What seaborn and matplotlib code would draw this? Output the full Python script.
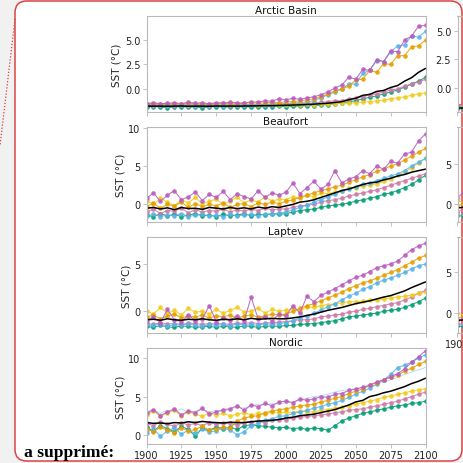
import numpy as np
import pandas as pd
import matplotlib
matplotlib.use("Agg")
import matplotlib.pyplot as plt
import seaborn as sns
from matplotlib.patches import FancyBboxPatch
from matplotlib.lines import Line2D

# ---------------- data (5-year steps) ----------------
years = list(range(1900, 2101, 5))
regions = ["Arctic Basin", "Beaufort", "Laptev", "Nordic"]
models = ["green", "pink", "gold", "sky", "orange", "purple"]

ab_purple = [-1.5,-1.4,-1.5,-1.45,-1.4,-1.5,-1.35,-1.45,-1.4,-1.5,-1.4,-1.45,-1.35,-1.4,-1.45,-1.3,-1.35,-1.2,-1.25,-1.0,
             -1.1,-0.95,-1.05,-0.9,-0.8,-0.6,-0.3,0.1,0.4,1.2,1.0,2.0,1.9,3.0,2.8,3.9,3.8,5.0,5.4,6.4,6.5]
ab_sky = [-1.6,-1.65,-1.6,-1.7,-1.6,-1.65,-1.6,-1.7,-1.65,-1.6,-1.65,-1.7,-1.6,-1.65,-1.6,-1.6,-1.55,-1.6,-1.5,-1.55,
          -1.5,-1.45,-1.4,-1.3,-1.2,-0.9,-0.6,-0.3,0.0,0.5,0.5,1.6,1.9,2.9,2.8,3.8,4.4,4.5,5.4,5.3,5.9]
ab_orange = [-1.5,-1.55,-1.5,-1.5,-1.55,-1.5,-1.45,-1.5,-1.55,-1.5,-1.5,-1.45,-1.5,-1.5,-1.45,-1.4,-1.45,-1.4,-1.35,-1.4,
             -1.3,-1.3,-1.2,-1.1,-1.0,-0.8,-0.5,-0.2,0.0,0.3,0.9,1.0,1.9,1.7,2.6,2.5,3.4,3.4,4.3,4.4,5.0]
ab_gold = [-1.55,-1.5,-1.55,-1.6,-1.5,-1.55,-1.6,-1.55,-1.5,-1.6,-1.55,-1.6,-1.55,-1.6,-1.6,-1.55,-1.6,-1.6,-1.55,-1.6,
           -1.6,-1.55,-1.6,-1.55,-1.6,-1.55,-1.5,-1.5,-1.45,-1.45,-1.4,-1.35,-1.3,-1.2,-1.15,-1.0,-0.9,-0.8,-0.65,-0.5,-0.4]
ab_pink = [-1.65,-1.7,-1.65,-1.6,-1.7,-1.65,-1.7,-1.6,-1.65,-1.7,-1.65,-1.6,-1.7,-1.65,-1.6,-1.65,-1.6,-1.55,-1.6,-1.5,
           -1.55,-1.5,-1.45,-1.5,-1.4,-1.35,-1.3,-1.2,-1.2,-1.0,-0.9,-0.8,-0.6,-0.5,-0.3,-0.1,0.0,0.3,0.5,0.7,1.0]
ab_green = [-1.85,-1.8,-1.85,-1.9,-1.85,-1.8,-1.85,-1.85,-1.9,-1.85,-1.8,-1.85,-1.85,-1.8,-1.85,-1.8,-1.85,-1.8,-1.8,-1.75,
            -1.8,-1.75,-1.75,-1.7,-1.7,-1.65,-1.6,-1.5,-1.45,-1.3,-1.2,-1.0,-0.85,-0.7,-0.5,-0.3,-0.1,0.2,0.5,0.8,1.2]
ab_mean = [-1.75,-1.75,-1.75,-1.76,-1.75,-1.74,-1.76,-1.75,-1.75,-1.76,-1.74,-1.75,-1.74,-1.75,-1.74,-1.73,-1.72,-1.7,-1.7,-1.68,
           -1.66,-1.64,-1.62,-1.58,-1.55,-1.5,-1.45,-1.38,-1.3,-1.1,-0.95,-0.65,-0.55,-0.25,-0.15,0.15,0.35,0.8,1.15,1.7,2.1]

bf_purple = [0.8,1.5,0.4,1.2,1.8,0.6,1.0,1.6,0.5,1.3,0.9,1.7,0.6,1.4,1.0,0.7,1.8,0.9,1.5,1.2,
             1.6,2.8,1.4,2.2,3.0,2.0,2.6,4.4,2.8,3.3,3.6,4.4,4.0,5.0,4.6,5.6,5.4,6.6,6.8,8.3,9.2]
bf_sky = [-1.5,-1.3,-1.6,-1.4,-1.5,-1.2,-1.6,-1.4,-1.3,-1.5,-1.4,-1.6,-1.3,-1.5,-1.4,-1.3,-1.5,-1.2,-1.3,-1.1,
          -1.0,-0.7,-0.4,-0.1,0.3,0.6,1.0,1.3,1.8,2.0,2.3,2.6,2.8,3.1,3.4,3.7,4.0,4.4,5.0,5.5,6.0]
bf_orange = [-0.3,0.2,-0.5,0.0,-0.2,0.3,-0.4,0.1,-0.3,0.0,-0.2,0.2,-0.4,0.0,0.1,-0.3,0.2,0.0,0.3,0.1,
             0.4,0.6,0.9,1.2,1.5,1.8,2.0,2.3,2.5,2.9,3.2,3.6,3.9,4.3,4.6,5.0,5.3,5.8,6.3,6.8,7.3]
bf_gold = [0.5,0.0,0.8,0.3,-0.2,0.6,0.2,0.9,0.1,0.4,0.7,0.0,0.5,0.9,0.2,0.6,0.3,1.0,0.4,0.7,
           0.6,1.0,0.8,1.2,1.0,1.5,1.4,1.6,1.8,2.1,2.2,2.4,2.5,2.7,3.0,3.3,3.8,4.2,4.8,5.4,6.0]
bf_pink = [-1.0,-0.6,-1.2,-0.8,-0.9,-0.5,-1.1,-0.7,-1.0,-0.8,-0.9,-0.6,-1.0,-0.7,-0.9,-0.6,-0.8,-0.5,-0.7,-0.6,
           -0.6,-0.4,-0.2,-0.1,0.0,0.3,0.5,0.6,0.8,1.1,1.3,1.5,1.7,1.9,2.2,2.5,2.8,3.1,3.4,3.7,4.0]
bf_green = [-1.4,-1.6,-1.2,-1.5,-1.3,-1.6,-1.4,-1.2,-1.5,-1.4,-1.6,-1.3,-1.5,-1.4,-1.2,-1.5,-1.3,-1.4,-1.2,-1.3,
            -1.2,-1.0,-0.8,-0.7,-0.6,-0.4,-0.2,-0.1,0.0,0.2,0.4,0.6,0.8,1.0,1.3,1.5,1.8,2.2,2.6,3.2,3.8]
bf_mean = [-0.5,-0.4,-0.6,-0.45,-0.7,-0.4,-0.55,-0.5,-0.65,-0.4,-0.5,-0.6,-0.4,-0.55,-0.45,-0.6,-0.35,-0.5,-0.3,-0.4,
           -0.2,0.0,0.3,0.4,0.6,0.9,1.2,1.5,1.8,2.0,2.3,2.6,2.8,2.9,3.2,3.4,3.7,3.9,4.2,4.4,4.6]

lp_purple = [-1.0,-0.6,-1.2,0.2,-0.9,-1.1,-0.4,-1.0,-0.8,0.6,-1.1,-0.7,-0.9,-0.5,-1.0,1.5,-0.8,-0.6,-1.0,-0.3,
             -0.5,0.6,-0.2,1.6,1.0,1.7,2.0,2.4,2.8,3.2,3.6,3.8,4.2,4.6,4.8,5.0,5.3,5.9,6.5,6.9,7.2]
lp_sky = [-1.4,-1.5,-1.3,-1.6,-1.4,-1.5,-1.3,-1.5,-1.6,-1.4,-1.5,-1.4,-1.6,-1.3,-1.5,-1.4,-1.5,-1.3,-1.4,-1.3,
          -1.2,-1.0,-0.7,-0.5,-0.2,0.1,0.5,0.8,1.2,1.6,1.9,2.3,2.6,3.0,3.3,3.5,3.8,4.1,4.5,4.8,5.0]
lp_orange = [-0.6,-0.4,-0.8,-0.5,-0.3,-0.7,-0.5,-0.6,-0.4,-0.7,-0.5,-0.6,-0.4,-0.7,-0.5,-0.4,-0.6,-0.5,-0.3,-0.4,
             -0.3,0.0,0.3,0.6,0.8,1.1,1.4,1.7,2.0,2.4,2.7,3.0,3.2,3.5,3.8,4.1,4.4,4.8,5.2,5.6,5.9]
lp_gold = [0.0,-0.3,0.4,-0.2,0.1,-0.4,0.3,-0.1,0.0,-0.3,0.2,-0.2,0.1,0.4,-0.1,0.0,0.3,-0.2,0.2,0.0,
           0.1,0.3,0.0,0.5,0.4,0.6,0.7,0.8,0.9,1.0,1.0,1.1,1.2,1.2,1.3,1.4,1.5,1.6,1.7,1.9,2.0]
lp_pink = [-1.3,-1.4,-1.2,-1.35,-1.3,-1.4,-1.25,-1.3,-1.4,-1.3,-1.35,-1.3,-1.4,-1.25,-1.3,-1.2,-1.3,-1.25,-1.2,-1.15,
           -1.1,-1.0,-0.9,-0.9,-0.8,-0.6,-0.5,-0.4,-0.3,-0.1,0.0,0.2,0.3,0.5,0.6,0.8,0.9,1.2,1.5,1.9,2.2]
lp_green = [-1.6,-1.7,-1.5,-1.65,-1.7,-1.55,-1.6,-1.7,-1.65,-1.6,-1.7,-1.6,-1.65,-1.7,-1.55,-1.6,-1.7,-1.6,-1.55,-1.6,
            -1.5,-1.5,-1.4,-1.35,-1.3,-1.2,-1.1,-1.0,-0.8,-0.6,-0.5,-0.4,-0.3,-0.2,0.0,0.1,0.2,0.4,0.7,1.0,1.4]
lp_mean = [-0.9,-0.85,-0.95,-0.8,-0.9,-0.95,-0.85,-0.9,-0.8,-0.9,-0.95,-0.85,-0.9,-0.8,-0.9,-0.75,-0.85,-0.8,-0.75,-0.8,
           -0.8,-0.7,-0.6,-0.45,-0.3,-0.1,0.1,0.25,0.4,0.6,0.8,0.95,1.1,1.3,1.5,1.65,1.9,2.15,2.5,2.8,3.1]

nd_purple = [2.8,3.3,2.5,3.0,3.4,2.6,3.1,2.9,3.5,2.7,3.0,3.3,3.4,3.8,3.2,3.9,3.7,4.1,3.8,4.3,
             4.4,4.2,4.7,4.5,4.7,5.0,4.9,5.3,5.4,5.8,6.0,6.2,6.5,6.9,7.2,7.6,8.0,8.6,9.5,10.2,11.0]
nd_sky = [0.3,0.8,-0.2,0.5,0.9,0.1,0.6,0.2,0.7,0.4,0.5,0.9,0.6,0.0,0.4,1.2,1.5,1.9,2.1,2.4,
          2.5,2.8,3.0,3.2,3.5,3.7,4.0,4.2,4.5,4.9,5.3,5.7,6.1,6.6,7.2,7.9,8.8,9.1,9.5,10.0,10.5]
nd_orange = [0.8,0.4,1.0,0.6,0.3,0.9,0.5,0.7,1.1,0.6,0.8,1.0,0.9,1.8,2.2,2.4,2.5,2.9,3.1,3.3,
             3.4,3.6,3.8,3.9,4.0,4.3,4.5,4.8,5.0,5.4,5.7,6.0,6.5,6.8,7.2,7.5,7.8,8.3,8.7,9.2,9.6]
nd_gold = [2.6,3.1,2.4,2.9,3.2,2.5,3.0,2.7,2.4,2.9,2.6,2.8,2.5,2.7,2.9,2.6,2.8,2.7,3.0,2.8,
           3.0,2.9,3.1,3.0,3.0,3.2,3.3,3.5,3.6,3.8,4.0,4.2,4.4,4.6,4.9,5.1,5.3,5.5,5.7,5.9,6.0]
nd_pink = [1.5,1.2,1.7,1.4,1.1,1.6,1.3,1.5,1.2,1.6,1.4,1.5,1.5,1.3,1.6,1.7,1.8,1.6,1.9,2.0,
           2.0,2.2,2.3,2.4,2.5,2.6,2.7,2.9,3.0,3.2,3.3,3.4,3.6,3.8,4.0,4.2,4.4,4.7,5.0,5.3,5.6]
nd_green = [1.0,0.5,1.2,0.8,0.4,1.1,0.7,-0.2,0.9,0.6,1.0,0.8,1.0,0.7,1.2,1.3,1.2,1.1,1.0,0.9,
            1.0,0.8,0.9,0.7,0.9,0.8,0.6,1.2,1.8,2.2,2.5,2.8,3.0,3.2,3.4,3.6,3.8,3.9,4.1,4.2,4.4]
nd_faint = [3.0,3.3,2.8,3.2,3.0,3.4,2.9,3.1,3.3,3.0,3.2,3.0,3.4,3.6,3.5,3.8,4.0,3.9,4.1,4.0,
            4.2,4.3,4.5,4.8,5.0,5.1,5.3,5.6,5.8,5.9,6.0,6.2,6.3,6.6,6.9,7.2,7.5,7.9,8.2,8.5,8.8]
nd_mean = [1.6,1.5,1.55,1.45,1.6,1.55,1.7,1.6,1.75,1.65,1.6,1.55,1.65,1.6,1.6,1.7,1.8,1.85,1.9,2.0,
           2.2,2.3,2.5,2.6,2.7,2.9,3.1,3.3,3.6,3.9,4.3,4.5,5.0,5.2,5.5,5.7,6.0,6.3,6.7,7.0,7.4]

series = {
    "Arctic Basin": dict(purple=ab_purple, sky=ab_sky, orange=ab_orange, gold=ab_gold, pink=ab_pink, green=ab_green),
    "Beaufort": dict(purple=bf_purple, sky=bf_sky, orange=bf_orange, gold=bf_gold, pink=bf_pink, green=bf_green),
    "Laptev": dict(purple=lp_purple, sky=lp_sky, orange=lp_orange, gold=lp_gold, pink=lp_pink, green=lp_green),
    "Nordic": dict(purple=nd_purple, sky=nd_sky, orange=nd_orange, gold=nd_gold, pink=nd_pink, green=nd_green),
}
means = {"Arctic Basin": ab_mean, "Beaufort": bf_mean, "Laptev": lp_mean, "Nordic": nd_mean}

palette = {"purple": "#bb5cbf", "sky": "#56b4e9", "orange": "#e69f00",
           "gold": "#f0cc1e", "pink": "#cc79a7", "green": "#009e73"}

# ---------------- style ----------------
sns.set_theme(style="ticks")
plt.rcParams["font.family"] = ["DejaVu Sans"]

W, H = 463, 464
fig = plt.figure(figsize=(W / 100, H / 100), dpi=100, facecolor="#f1f1f1")


def rect(x0, y0, x1, y1):
    return [x0 / W, 1 - y1 / H, (x1 - x0) / W, (y1 - y0) / H]


# document frame (behind the axes)
box = FancyBboxPatch((15 / W, 1 - 462 / H), (462 - 15) / W, (462 - 2) / H,
                     boxstyle="round,pad=0,rounding_size=0.025",
                     transform=fig.transFigure, facecolor="white",
                     edgecolor="#dc4444", linewidth=1.1, zorder=-10)
fig.patches.append(box)
fig.lines.append(Line2D([15 / W, 0], [1 - 20 / H, 1 - 147 / H], transform=fig.transFigure,
                        color="#d84040", linestyle=(0, (1, 1.5)), linewidth=0.9, zorder=-5))
fig.text(24 / W, 1 - 457 / H, "a supprimé:", fontfamily="Liberation Serif",
         fontweight="bold", fontsize=12.6, va="baseline", ha="left", color="black")

rows = [(17, 113), (128, 223), (238, 334), (349, 445)]
ylims = {"Arctic Basin": (-2.35, 7.45), "Beaufort": (-2.3, 10.1),
         "Laptev": (-2.3, 7.85), "Nordic": (-1.2, 11.35)}
yticks = {"Arctic Basin": [0, 2.5, 5.0], "Beaufort": [0, 5, 10],
          "Laptev": [0, 5], "Nordic": [0, 5, 10]}
right_ylims = {"Arctic Basin": (-2.1, 6.3), "Beaufort": (-2.25, 9.6), "Laptev": (-2.45, 9.3)}
right_yticks = {"Arctic Basin": [0, 2.5, 5.0], "Beaufort": [0, 5], "Laptev": [0, 5]}
xtick_years = list(range(1900, 2101, 25))

spine_c = "#b9b9b9"


def style_axes(ax, show_x):
    for s in ax.spines.values():
        s.set_color(spine_c)
        s.set_linewidth(0.8)
    ax.tick_params(length=3, width=0.6, color=spine_c, labelsize=7, pad=1.5,
                   labelcolor="#222222")
    ax.set_xlim(1900, 2100)
    ax.set_xticks(xtick_years)
    ax.tick_params(labelbottom=show_x)
    ax.set_xlabel("")


def draw(ax, region):
    data = series[region]
    df = pd.DataFrame({
        "year": years * len(models),
        "sst": sum([list(data[m]) for m in models], []),
        "model": sum([[m] * len(years) for m in models], []),
    })
    if region == "Nordic":
        sns.lineplot(x=years, y=nd_faint, color="#a9d9f7", linewidth=0.6, ax=ax)
    sns.lineplot(data=df, x="year", y="sst", hue="model", hue_order=models,
                 palette=palette, marker="o", markersize=3.3, markeredgewidth=0,
                 linewidth=0.75, alpha=0.9, legend=False, estimator=None,
                 sort=False, ax=ax)
    sns.lineplot(x=years, y=means[region], color="black", linewidth=1.1, ax=ax)


for i, region in enumerate(regions):
    y0, y1 = rows[i]
    ax = fig.add_axes(rect(146.5, y0, 425.5, y1))
    ax.set_facecolor("white")
    draw(ax, region)
    style_axes(ax, show_x=(i == 3))
    ax.set_ylim(*ylims[region])
    ax.set_yticks(yticks[region])
    ax.set_title(region, fontsize=7.5, pad=2, color="#111111")
    ax.set_ylabel("SST (°C)", fontsize=7.5, labelpad=2, color="#222222")

    if region in right_ylims:
        axr = fig.add_axes(rect(457.5, y0, 736.5, y1))
        axr.set_facecolor("none")
        draw(axr, region)
        style_axes(axr, show_x=(region == "Laptev"))
        axr.set_xticklabels([str(xtick_years[0])] + [""] * (len(xtick_years) - 1))
        axr.set_ylim(*right_ylims[region])
        axr.set_yticks(right_yticks[region])
        axr.set_ylabel("")

fig.savefig("out.png", dpi=100, facecolor=fig.get_facecolor())
